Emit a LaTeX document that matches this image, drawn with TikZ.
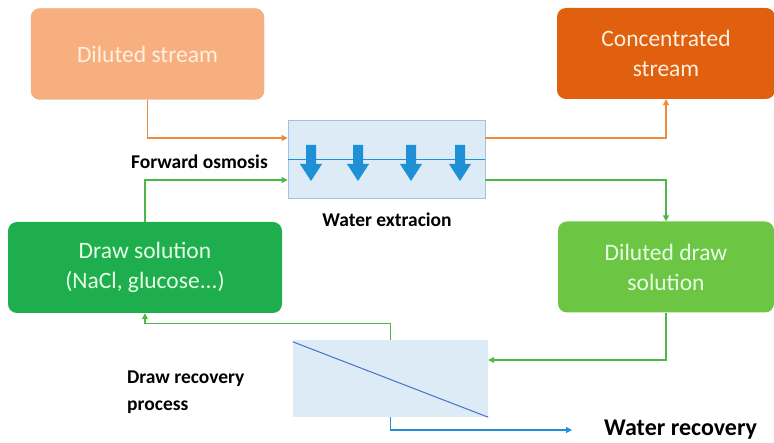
\documentclass[tikz,border=0pt]{standalone}
\usepackage{fontspec}
\setmainfont{Carlito}
\usetikzlibrary{arrows.meta}
\definecolor{peach}{HTML}{F8AF7F}
\definecolor{burnt}{HTML}{E0600F}
\definecolor{drawgreen}{HTML}{1EAE4E}
\definecolor{lightgreen}{HTML}{6CC644}
\definecolor{linegreen}{HTML}{4CB848}
\definecolor{lineorange}{HTML}{F08A3C}
\definecolor{paleblue}{HTML}{DDEBF7}
\definecolor{edgeblue}{HTML}{9DC3E6}
\definecolor{waterblue}{HTML}{1F8FD6}
\definecolor{diagblue}{HTML}{4472C4}
\begin{document}
\begin{tikzpicture}[x=1pt,y=-1pt,
  streamBox/.style={rectangle, rounded corners=9pt, minimum width=#1, minimum height=91pt, inner sep=0pt, align=center, font=\fontsize{23.5}{30}\selectfont},
  plainLabel/.style={font=\bfseries\fontsize{19.5}{26.5}\selectfont, inner sep=0pt},
  flowArrow/.style={line width=1.2pt, -{Triangle[length=6pt,width=6pt]}}
]
\useasboundingbox (0,0) rectangle (774,443);
% boxes
\node[streamBox=233pt, fill=peach, draw=peach!80!gray, text=orange!12] (dil) at (147.5,54){Diluted stream};
\node[streamBox=218pt, fill=burnt, text=orange!12] (conc) at (666,53.5){Concentrated\\stream};
\node[streamBox=274pt, fill=drawgreen, text=green!10] (drawsol) at (145,267.5){Draw solution\\(NaCl, glucose...)};
\node[streamBox=216pt, fill=lightgreen, text=green!10] (dildraw) at (666,267){Diluted draw\\solution};
% forward osmosis unit
\node[rectangle, draw=edgeblue, fill=paleblue, line width=0.8pt, minimum width=197pt, minimum height=78pt, inner sep=0pt] (fo) at (386.5,159){};
\draw[waterblue, line width=1pt] (fo.west |- 0,160) -- (fo.east |- 0,160);
\foreach \x in {311,358,411,460}
  \fill[waterblue] (\x-5,145) -- (\x+5,145) -- (\x+5,164) -- (\x+11,164) -- (\x,181) -- (\x-11,164) -- (\x-5,164) -- cycle;
% recovery unit
\node[rectangle, fill=paleblue, minimum width=195pt, minimum height=77pt, inner sep=0pt] (rec) at (390.5,378.5){};
\draw[diagblue, line width=1pt] (rec.north west) ++(0,2) -- (rec.south east);
% labels
\node[plainLabel, anchor=east] (folab) at (268,162){Forward osmosis};
\node[plainLabel] (extlab) at (387,220){Water extracion};
\node[plainLabel, align=left, anchor=north west] (reclab) at (127,371){Draw recovery\\process};
\node[font=\bfseries\fontsize{24}{28}\selectfont, inner sep=0pt, anchor=west] (watlab) at (604,430){Water recovery};
% flows
\coordinate (wout) at (572,430);
\draw[flowArrow, lineorange] (dil.south) |- (fo.west |- 0,138);
\draw[flowArrow, lineorange] (fo.east |- 0,138) -| (conc.south);
\draw[flowArrow, linegreen] (drawsol.north) |- (fo.west |- 0,180);
\draw[flowArrow, linegreen] (fo.east |- 0,180) -| (dildraw.north);
\draw[flowArrow, linegreen] (dildraw.south) |- (rec.east |- 0,360);
\draw[flowArrow, linegreen] (rec.north) -- ++(0,-16) -| (drawsol.south);
\draw[flowArrow, waterblue] (rec.south) |- (wout);
\end{tikzpicture}
\end{document}
